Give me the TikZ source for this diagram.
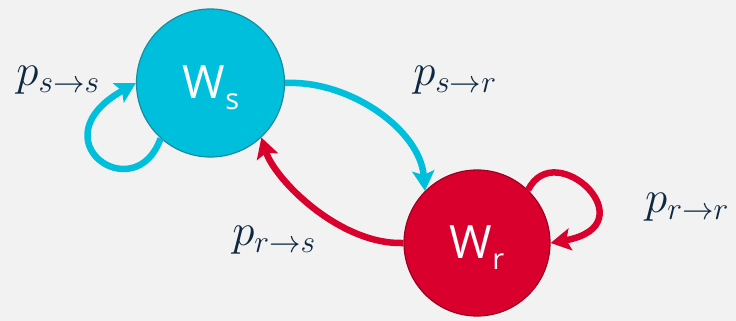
\RequirePackage{fix-cm}
\documentclass[tikz,border=0pt]{standalone}
\usepackage{fontspec}
\setmainfont{Open Sans}
\usetikzlibrary{arrows.meta}
\definecolor{bgc}{HTML}{F2F2F2}
\definecolor{cyanc}{HTML}{00BFDD}
\definecolor{cyanb}{HTML}{1A8C9E}
\definecolor{redc}{HTML}{D9002E}
\definecolor{redb}{HTML}{9E0020}
\definecolor{navy}{HTML}{0E2841}
\tikzset{
  state/.style={circle, draw, line width=1.2pt, minimum size=#1, inner sep=0pt, text=white},
  lab/.style={text=navy, inner sep=0pt, font=\fontsize{45}{48}\selectfont},
  trans/.style={line width=6.5pt, -{Stealth[length=20pt,width=22pt,inset=4pt]}},
}
\newcommand{\stname}[1]{\fontsize{46}{50}\selectfont W\raisebox{-11pt}{\fontsize{29}{30}\selectfont #1}}
\begin{document}
\begin{tikzpicture}[x=1pt,y=1pt]
\fill[bgc] (0,0) rectangle (736,-321);
\useasboundingbox (0,0) rectangle (736,-321);
\node[state=148pt, fill=cyanc, draw=cyanb] (ws) at (210.5,-83) {};
\node[state=146pt, fill=redc, draw=redb] (wr) at (477,-243) {};
\node[text=white, inner sep=0pt] (wst) at (211,-88) {\stname{s}};
\node[text=white, inner sep=0pt] (wrt) at (477,-248) {\stname{r}};
% transitions
\draw[trans, cyanc] (ws.228) .. controls (135,-210) and (35,-140) .. (ws.180);
\draw[trans, cyanc] (ws.0) .. controls (350,-80) and (420,-130) .. (wr.135);
\draw[trans, redc] (wr.180) .. controls (340,-245) and (275,-180) .. (ws.-47);
\draw[trans, redc] (wr.46) .. controls (555,-135) and (650,-225) .. (wr.0);
% labels
\node[lab] (lss) at (58,-80) {$p_{s\to s}$};
\node[lab] (lsr) at (455,-80) {$p_{s\to r}$};
\node[lab] (lrs) at (274,-240) {$p_{r\to s}$};
\node[lab] (lrr) at (687,-207) {$p_{r\to r}$};
\end{tikzpicture}
\end{document}
